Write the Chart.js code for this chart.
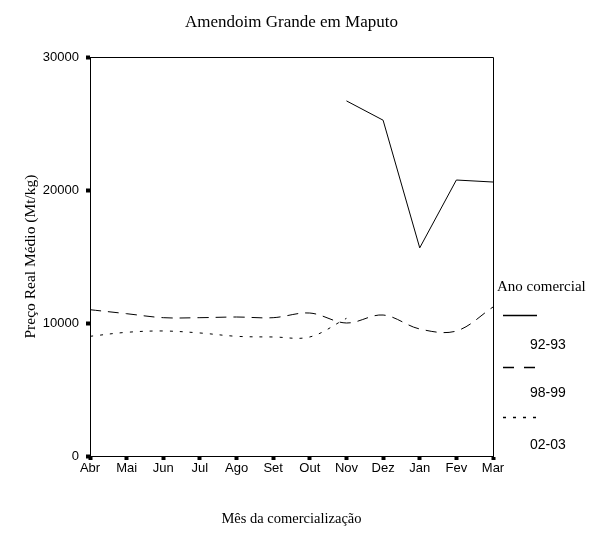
<!DOCTYPE html>
<html>
<head>
<meta charset="utf-8">
<script src="https://cdn.jsdelivr.net/npm/chart.js@4.4.1/dist/chart.umd.min.js"></script>
<style>
  html, body { margin: 0; padding: 0; background: #fff; }
  #wrap { width: 596px; height: 533px; position: relative; }
</style>
</head>
<body>
<div id="wrap"><canvas id="c" width="596" height="533"></canvas></div>
<script>
const chartTitle = 'Amendoim Grande em Maputo';
const xTitle = 'Mês da comercialização';
const yTitle = 'Preço Real Médio (Mt/kg)';
const legendTitle = 'Ano comercial';
const months = ['Abr','Mai','Jun','Jul','Ago','Set','Out','Nov','Dez','Jan','Fev','Mar'];
const yTicks = [0, 10000, 20000, 30000];
const seriesLabels = ['92-93', '98-99', '02-03'];
const s9293 = [null, null, null, null, null, null, null, 26700, 25250, 15650, 20750, 20600];
const s9899 = [11000, 10700, 10400, 10400, 10450, 10400, 10750, 10000, 10600, 9550, 9400, 11200];
const s0203 = [9000, 9300, 9400, 9250, 9000, 8950, 8950, 10350, null, null, null, null];

const serif = '"Liberation Serif", "Times New Roman", serif';
const sans = '"Liberation Sans", Arial, sans-serif';

const framePlugin = {
  id: 'frame',
  afterDraw(chart) {
    const {ctx, chartArea: a} = chart;
    ctx.save();
    ctx.strokeStyle = '#000';
    ctx.lineWidth = 1;
    ctx.beginPath();
    ctx.moveTo(a.left, a.top + 0.5);
    ctx.lineTo(a.right + 0.5, a.top + 0.5);
    ctx.lineTo(a.right + 0.5, a.bottom);
    ctx.stroke();
    // chart title
    ctx.fillStyle = '#000';
    ctx.font = '17px ' + serif;
    ctx.textAlign = 'center';
    ctx.textBaseline = 'middle';
    ctx.fillText(chartTitle, (a.left + a.right) / 2, 23);
    // legend
    ctx.textAlign = 'left';
    ctx.font = '15px ' + serif;
    ctx.fillText(legendTitle, a.right + 4, 287);
    const sampleY = [315, 367, 417];
    const labelY = [345, 393, 445];
    chart.data.datasets.forEach((ds, i) => {
      ctx.save();
      ctx.strokeStyle = '#000';
      ctx.lineWidth = 1.5;
      ctx.setLineDash(ds.legendDash || []);
      ctx.beginPath();
      ctx.moveTo(a.right + 10, sampleY[i] + 0.5);
      ctx.lineTo(a.right + 44, sampleY[i] + 0.5);
      ctx.stroke();
      ctx.restore();
      ctx.font = '14px ' + sans;
      ctx.fillText(ds.label, a.right + 37, labelY[i]);
    });
    ctx.restore();
  }
};

new Chart(document.getElementById('c'), {
  type: 'line',
  data: {
    labels: months,
    datasets: [
      { label: seriesLabels[0], data: s9293, borderColor: '#000', borderWidth: 1, pointRadius: 0, tension: 0, legendDash: [] },
      { label: seriesLabels[1], data: s9899, borderColor: '#000', borderWidth: 1, pointRadius: 0, tension: 0.35, borderDash: [11, 7], legendDash: [11, 10] },
      { label: seriesLabels[2], data: s0203, borderColor: '#000', borderWidth: 1, pointRadius: 0, tension: 0.35, borderDash: [3, 7], legendDash: [3, 7] }
    ]
  },
  options: {
    responsive: false,
    animation: false,
    layout: { padding: { top: 57, right: 103, bottom: 0, left: 0 } },
    plugins: { legend: { display: false }, title: { display: false }, tooltip: { enabled: false } },
    scales: {
      x: {
        type: 'category',
        offset: false,
        afterFit(s) { s.height = 77; },
        grid: { drawOnChartArea: false, drawTicks: true, tickLength: 4, tickWidth: 4, tickColor: '#000' },
        border: { display: true, color: '#000', width: 1 },
        ticks: { color: '#000', font: { family: sans, size: 13 }, padding: 1, maxRotation: 0, autoSkip: false },
        title: { display: true, text: xTitle, color: '#000', font: { family: serif, size: 14.5 }, padding: { top: 0, bottom: 5 } }
      },
      y: {
        min: 0, max: 30000,
        afterFit(s) { s.width = 90; },
        afterBuildTicks(s) { s.ticks = yTicks.map(v => ({ value: v })); },
        grid: { drawOnChartArea: false, drawTicks: true, tickLength: 4, tickWidth: 4, tickColor: '#000' },
        border: { display: true, color: '#000', width: 1 },
        ticks: { color: '#000', font: { family: sans, size: 13 }, padding: 7, callback: v => String(v) },
        title: { display: true, text: yTitle, color: '#000', font: { family: serif, size: 15.5 }, padding: { top: 22, bottom: 0 } }
      }
    }
  },
  plugins: [framePlugin]
});
</script>
</body>
</html>
